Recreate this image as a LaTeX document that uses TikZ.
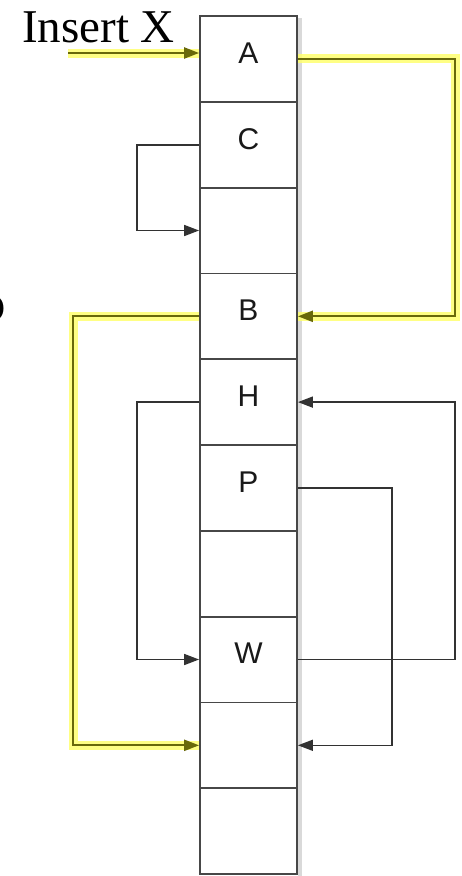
\documentclass[tikz,border=0pt]{standalone}
\usepackage{fontspec}
\setmainfont{Liberation Serif}
\newfontfamily\arialfont{Liberation Sans}
\usetikzlibrary{arrows.meta}
\definecolor{hlyellow}{RGB}{255,255,110}
\definecolor{olive}{RGB}{105,105,10}
\definecolor{linegray}{RGB}{50,50,50}
\tikzset{
  cell/.style={draw=black!72, line width=1.8pt, minimum width=97pt, minimum height=85.8pt, inner sep=0pt, fill=white},
  lbl/.style={font=\arialfont\fontsize{30}{32}\selectfont, inner sep=0pt, text=black!90},
  conn/.style={draw=linegray, line width=1.6pt, -{Triangle[length=15pt,width=11pt]}},
  hl/.style={draw=hlyellow, line width=9pt, opacity=0.85},
  hlarrow/.style={draw=olive, line width=2.2pt, -{Triangle[length=15pt,width=11pt]}},
}
\begin{document}
\begin{tikzpicture}[x=1pt,y=-1pt]
\useasboundingbox (0,0) rectangle (462,876);
% shadow
\fill[black!15] (298,18) rectangle (302,876);
% cells
\node[cell] (A)  at (248.5,58.9) {};
\node[cell] (C)  at (248.5,144.7) {};
\node[cell] (E3) at (248.5,230.5) {};
\node[cell] (B)  at (248.5,316.3) {};
\node[cell] (H)  at (248.5,402.1) {};
\node[cell] (P)  at (248.5,487.9) {};
\node[cell] (E7) at (248.5,573.7) {};
\node[cell] (W)  at (248.5,659.5) {};
\node[cell] (E9) at (248.5,745.3) {};
\node[cell] (E10) at (248.5,831.1) {};
% labels
\node[lbl] (lA) at ([yshift=6pt]A.center) {A};
\node[lbl] (lC) at ([yshift=6pt]C.center) {C};
\node[lbl] (lB) at ([yshift=6pt]B.center) {B};
\node[lbl] (lH) at ([yshift=6pt]H.center) {H};
\node[lbl] (lP) at ([yshift=6pt]P.center) {P};
\node[lbl] (lW) at ([yshift=6pt]W.center) {W};
% title
\node[anchor=base west, inner sep=0pt, font=\fontsize{47}{50}\selectfont] (ins) at (22,42) {Insert X};
\node[anchor=base east, inner sep=0pt, font=\arialfont\bfseries\fontsize{48}{50}\selectfont] (oo) at (6,321) {o};
% insert arrow
\coordinate (ix) at (68,53);
\draw[hl] (ix) -- (A.west |- ix);
\draw[hlarrow] (ix) -- (A.west |- ix);
% A -> B (yellow)
\coordinate (ab) at (455,0);
\draw[hl] (A.east) -- (ab |- A.east) -- (ab |- B.east) -- (B.east);
\draw[hlarrow] (A.east) -- (ab |- A.east) -- (ab |- B.east) -- (B.east);
% B -> E9 (yellow)
\coordinate (be) at (73,0);
\draw[hl] (B.west) -- (be |- B.west) -- (be |- E9.west) -- (E9.west);
\draw[hlarrow] (B.west) -- (be |- B.west) -- (be |- E9.west) -- (E9.west);
% C -> E3
\coordinate (lc) at (137,0);
\draw[conn] (C.west) -- (lc |- C.west) -- (lc |- E3.west) -- (E3.west);
% H -> W
\draw[conn] (H.west) -- (lc |- H.west) -- (lc |- W.west) -- (W.west);
% W -> H (right side)
\coordinate (rw) at (455,0);
\draw[conn] (W.east) -- (rw |- W.east) -- (rw |- H.east) -- (H.east);
% P -> E9
\coordinate (rp) at (392,0);
\draw[conn] (P.east) -- (rp |- P.east) -- (rp |- E9.east) -- (E9.east);
\end{tikzpicture}
\end{document}
